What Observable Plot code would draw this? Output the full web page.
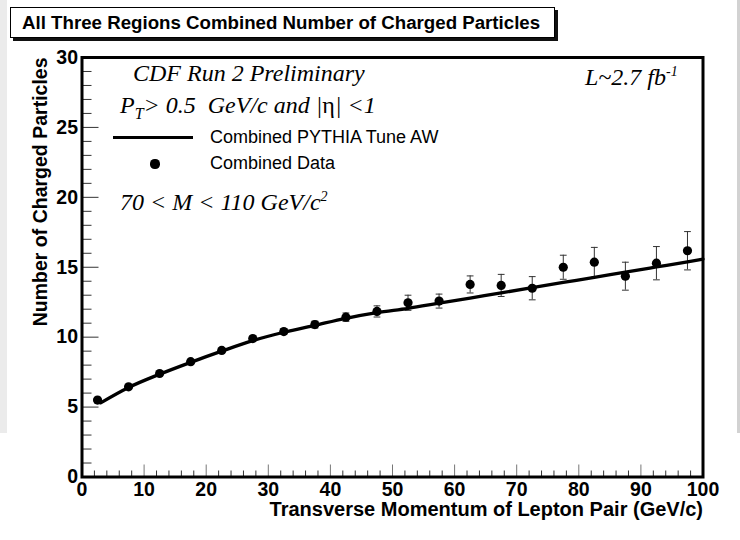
<!DOCTYPE html>
<html><head><meta charset="utf-8">
<script src="https://cdn.jsdelivr.net/npm/d3@7"></script>
<script src="https://cdn.jsdelivr.net/npm/@observablehq/plot@0.6"></script>
<style>
body{margin:0;background:#fff;}
#wrap{position:relative;width:740px;height:540px;overflow:hidden;font-family:"Liberation Sans",Arial,sans-serif;background:#fff;}
#wrap svg{position:absolute;left:0;top:0;}
.ov{position:absolute;white-space:nowrap;color:#000;}
.ser{font-family:"Liberation Serif","Times New Roman",serif;font-style:italic;font-size:24px;line-height:24px;}
.leg{font-size:18px;line-height:18px;}
.up{font-style:normal;}
</style></head><body><div id="wrap"></div>
<script>
// ---- data ----
const binCenters = [2.5, 7.5, 12.5, 17.5, 22.5, 27.5, 32.5, 37.5, 42.5, 47.5, 52.5, 57.5, 62.5, 67.5, 72.5, 77.5, 82.5, 87.5, 92.5, 97.5];
const dataValues = [5.5, 6.45, 7.4, 8.25, 9.05, 9.9, 10.4, 10.9, 11.43, 11.84, 12.46, 12.58, 13.77, 13.7, 13.5, 15.0, 15.36, 14.36, 15.29, 16.18];
const dataErrors = [0.1, 0.1, 0.1, 0.12, 0.15, 0.18, 0.2, 0.25, 0.3, 0.4, 0.54, 0.5, 0.61, 0.79, 0.83, 0.86, 1.06, 1.0, 1.19, 1.37];
const modelX = [3, 7.5, 12.5, 17.5, 22.5, 27.5, 32.5, 37.5, 42.5, 47.5, 52.5, 57.5, 62.5, 67.5, 72.5, 77.5, 82.5, 87.5, 92.5, 97.5, 100];
const modelValues = [5.3, 6.4, 7.35, 8.2, 9.0, 9.75, 10.35, 10.85, 11.35, 11.75, 12.06, 12.43, 12.8, 13.17, 13.54, 13.91, 14.28, 14.65, 15.02, 15.39, 15.58];
const xMajorTicks = [0, 10, 20, 30, 40, 50, 60, 70, 80, 90, 100];
const xMinorTicks = d3.range(0, 101, 2).filter(v => v % 10 !== 0);
const yMajorTicks = [0, 5, 10, 15, 20, 25, 30];
const yMinorTicks = d3.range(0, 31, 1).filter(v => v % 5 !== 0);
const titleText = "All Three Regions Combined Number of Charged Particles";
const xTitle = "Transverse Momentum of Lepton Pair (GeV/c)";
const yTitle = "Number of Charged Particles";
const modelLabel = "Combined PYTHIA Tune AW";
const dataLabel = "Combined Data";

const rows = binCenters.map((x, i) => ({x, v: dataValues[i], e: dataErrors[i]}));
const model = modelX.map((x, i) => ({x, v: modelValues[i]}));
const capShape = {draw(c, l) { c.moveTo(0, 0); c.lineTo(0, -l); }};
const bold = {fontWeight: "bold", fill: "#000"};

const plot = Plot.plot({
  width: 740, height: 540,
  marginLeft: 81.5, marginRight: 37.5, marginTop: 57, marginBottom: 63.5,
  x: {domain: [0, 100], label: null},
  y: {domain: [0, 30], label: null},
  style: {background: "transparent", fontFamily: "'Liberation Sans', Arial, sans-serif", color: "#000"},
  marks: [
    Plot.axisY(yMinorTicks, {tickSize: -10, fill: "none", stroke: "#333", label: null}),
    Plot.axisY(yMajorTicks, {tickSize: -17, fill: "none", stroke: "#333", label: null}),
    Plot.axisX(xMinorTicks, {tickSize: -6, fill: "none", stroke: "#333", label: null}),
    Plot.axisX(xMajorTicks, {tickSize: -12, fill: "none", stroke: "#777", label: null}),
    Plot.axisY(yMajorTicks, {tickSize: 0, tickPadding: 4, label: null, fontSize: 19.5, ...bold}),
    Plot.axisX(xMajorTicks, {tickSize: 0, tickPadding: 5, label: null, fontSize: 19.5, ...bold}),
    Plot.text([xTitle], {frameAnchor: "bottom-right", dy: 39, textAnchor: "end", fontSize: 20, ...bold}),
    Plot.text([yTitle], {frameAnchor: "top-left", dx: -49, dy: 0, rotate: -90, textAnchor: "end", fontSize: 19.5, ...bold}),
    Plot.ruleX(rows, {x: "x", y1: d => d.v - d.e, y2: d => d.v + d.e, stroke: "#333", strokeWidth: 1}),
    Plot.vector(rows, {x: "x", y: d => d.v + d.e, length: 6, rotate: 90, anchor: "middle", shape: capShape, stroke: "#333", strokeWidth: 1}),
    Plot.vector(rows, {x: "x", y: d => d.v - d.e, length: 6, rotate: 90, anchor: "middle", shape: capShape, stroke: "#333", strokeWidth: 1}),
    Plot.line(model, {x: "x", y: "v", stroke: "#000", strokeWidth: 3.3, curve: "monotone-x"}),
    Plot.dot(rows, {x: "x", y: "v", r: 4.6, fill: "#000"}),
    Plot.frame({stroke: "#000", strokeWidth: 3})
  ]
});
const wrap = document.getElementById("wrap");
wrap.appendChild(plot);

function ov(html, css, cls) {
  const d = document.createElement("div");
  d.className = "ov " + (cls || "");
  d.innerHTML = html;
  Object.assign(d.style, css);
  wrap.appendChild(d);
  return d;
}
// side strips of the screenshot
ov("", {left: "0px", top: "0px", width: "7px", height: "433px", background: "#ebebeb"});
ov("", {left: "737px", top: "0px", width: "3px", height: "433px", background: "#d2d2d2"});
// title box
ov(titleText, {left: "10px", top: "7px", width: "545px", height: "31px", boxSizing: "border-box",
  border: "1px solid #000", boxShadow: "3px 3px 0 #111", background: "#fff",
  fontWeight: "bold", fontSize: "18.7px", lineHeight: "29px", paddingLeft: "11px"});
// annotations
ov("CDF Run 2 Preliminary", {left: "133px", top: "61px"}, "ser");
ov("P<sub style='font-size:16px;vertical-align:-6px'>T</sub>&gt; 0.5&nbsp; GeV/c and |<span class='up'>η</span>| &lt;1", {left: "120px", top: "93px"}, "ser");
ov("70 &lt; M &lt; 110 GeV/c<sup style='font-size:14px;vertical-align:9px'>2</sup>", {left: "120px", top: "185px"}, "ser");
ov("L~2.7 fb<sup style='font-size:14px;vertical-align:9px'>-1</sup>", {left: "585px", top: "60px"}, "ser");
// legend
ov("", {left: "113px", top: "136px", width: "80px", height: "3.3px", background: "#000"});
ov("", {left: "150.4px", top: "159.4px", width: "9.2px", height: "9.2px", borderRadius: "50%", background: "#000"});
ov(modelLabel, {left: "210px", top: "128px"}, "leg");
ov(dataLabel, {left: "210px", top: "154px"}, "leg");
</script></body></html>
